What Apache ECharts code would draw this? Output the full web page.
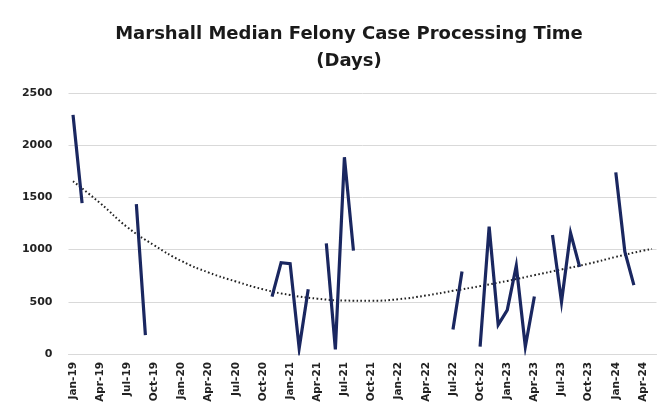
<!DOCTYPE html>
<html>
<head>
<meta charset="utf-8">
<style>
html,body{margin:0;padding:0;background:#fff;}
#main{width:665px;height:416px;}
</style>
</head>
<body>
<div id="main"></div>
<script src="https://cdn.jsdelivr.net/npm/echarts@6/dist/echarts.min.js"></script>
<script type="text/javascript">
// months Jan-19 .. May-24
var months = ['Jan-19','Feb-19','Mar-19','Apr-19','May-19','Jun-19','Jul-19','Aug-19','Sep-19','Oct-19','Nov-19','Dec-19',
    'Jan-20','Feb-20','Mar-20','Apr-20','May-20','Jun-20','Jul-20','Aug-20','Sep-20','Oct-20','Nov-20','Dec-20',
    'Jan-21','Feb-21','Mar-21','Apr-21','May-21','Jun-21','Jul-21','Aug-21','Sep-21','Oct-21','Nov-21','Dec-21',
    'Jan-22','Feb-22','Mar-22','Apr-22','May-22','Jun-22','Jul-22','Aug-22','Sep-22','Oct-22','Nov-22','Dec-22',
    'Jan-23','Feb-23','Mar-23','Apr-23','May-23','Jun-23','Jul-23','Aug-23','Sep-23','Oct-23','Nov-23','Dec-23',
    'Jan-24','Feb-24','Mar-24','Apr-24','May-24'];

// median days, null = no data that month
var medianDays = [2290,1445,null,null,null,null,null,1435,180,null,null,null,
    null,null,null,null,null,null,null,null,null,null,550,875,
    865,55,620,null,1060,45,1885,990,null,null,null,null,
    null,null,null,null,null,null,235,790,null,70,1220,280,
    420,845,70,550,null,1140,500,1160,835,null,null,null,
    1740,980,660,null,null];

// trendline (quarterly points)
var trendDays = [1655,null,null,1445,null,null,1215,null,null,1040,null,null,
    890,null,null,780,null,null,695,null,null,620,null,null,
    565,null,null,530,null,null,512,null,null,510,null,null,
    525,null,null,560,null,null,605,null,null,650,null,null,
    700,null,null,755,null,null,810,null,null,865,null,null,
    930,null,null,990,1006];

var yTicks = {min:0, max:2500, interval:500};

var myChart = echarts.init(document.getElementById('main'));
var option = {
    backgroundColor:'#fff',
    animation:false,
    title:{
        text:'Marshall Median Felony Case Processing Time\n(Days)',
        left:344,
        textAlign:'center',
        top:16,
        textStyle:{fontFamily:'DejaVu Sans', fontSize:18, fontWeight:'bold', color:'#1a1a1a', lineHeight:27}
    },
    grid:{left:68.5, right:8.5, top:93, bottom:62},
    xAxis:{
        type:'category',
        data:months,
        boundaryGap:true,
        axisLine:{lineStyle:{color:'#d9d9d9', width:1}},
        axisTick:{show:false},
        axisLabel:{interval:2, rotate:90, fontFamily:'DejaVu Sans', fontWeight:'bold', fontSize:10.5, color:'#222', margin:8}
    },
    yAxis:{
        type:'value',
        min:yTicks.min, max:yTicks.max, interval:yTicks.interval,
        axisLine:{show:false},
        axisTick:{show:false},
        splitLine:{lineStyle:{color:'#d9d9d9', width:1}},
        axisLabel:{fontFamily:'DejaVu Sans', fontWeight:'bold', fontSize:11, color:'#222', margin:16,
            formatter:function(v){ return String(v); }}
    },
    series:[
        {
            name:'Median',
            type:'line',
            data:medianDays,
            connectNulls:false,
            showSymbol:false,
            lineStyle:{color:'#1a2760', width:3.2, join:'miter'},
            z:3
        },
        {
            name:'Trend',
            type:'line',
            data:trendDays,
            connectNulls:true,
            smooth:0.5,
            showSymbol:false,
            lineStyle:{color:'#222', width:2, type:[1.6,2.4]},
            z:2
        }
    ]
};
myChart.setOption(option);
</script>
</body>
</html>
